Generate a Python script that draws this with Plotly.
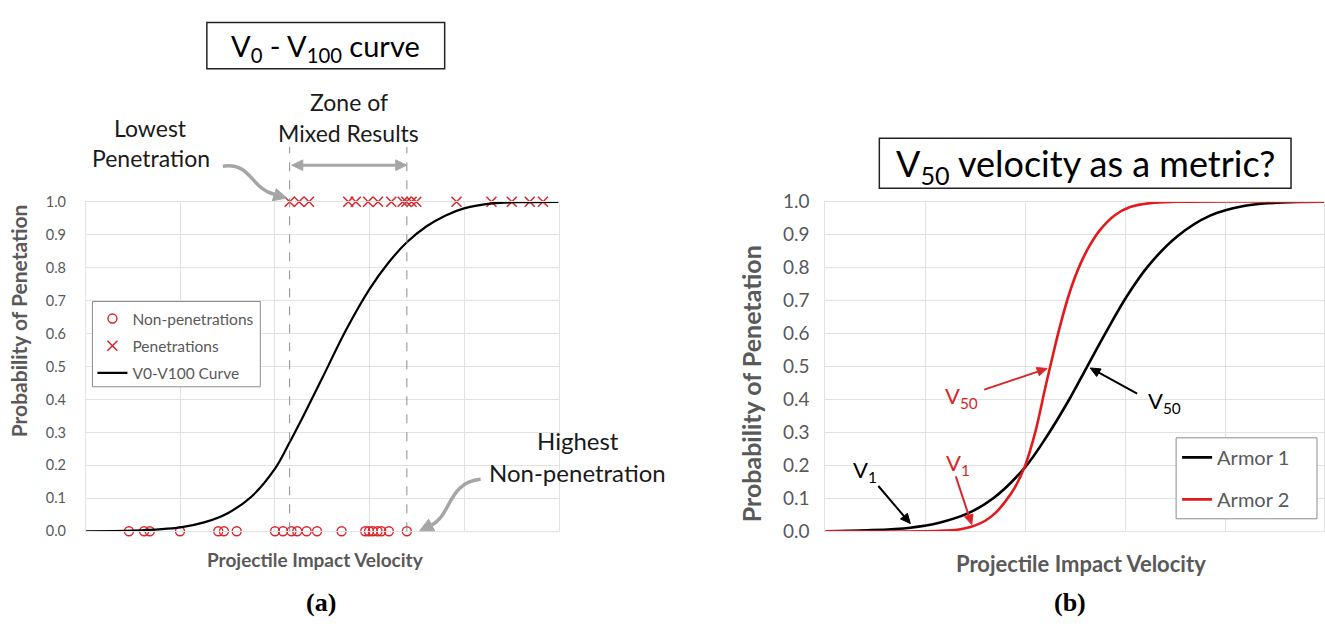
import math
import plotly.graph_objects as go

# ---------------- data ----------------
# (a) V0-V100 curve: arbitrary velocity units 0..10
nonpen_x = [0.91, 1.23, 1.35, 1.99, 2.80, 2.92, 3.19, 4.00, 4.17, 4.35, 4.47, 4.67, 4.89,
            5.41, 5.91, 5.99, 6.07, 6.17, 6.25, 6.41, 6.79]
pen_x = [4.31, 4.51, 4.72, 5.55, 5.71, 5.97, 6.18, 6.46, 6.70, 6.78, 6.89, 6.99,
         7.84, 8.58, 9.01, 9.39, 9.67]
curve_x = [0.0, 1.0, 2.0, 2.5, 3.0, 3.5, 4.0, 4.31, 4.6, 5.0, 5.5, 6.0, 6.4, 6.79,
           7.2, 7.6, 8.0, 8.6, 9.3, 10.0]
curve_p = [0.0, 0.002, 0.012, 0.027, 0.055, 0.105, 0.19, 0.27, 0.35, 0.465, 0.61, 0.735,
           0.815, 0.877, 0.925, 0.958, 0.98, 0.995, 0.999, 1.0]

# (b) two armors: arbitrary velocity units 0..5
armor1_x = [0.0, 0.42, 0.85, 1.14, 1.43, 1.68, 2.0, 2.22, 2.44, 2.62, 2.80, 3.02, 3.23,
            3.52, 3.85, 4.2, 4.57, 4.99]
armor1_p = [0.0, 0.003, 0.011, 0.026, 0.055, 0.1, 0.195, 0.29, 0.4, 0.5, 0.6, 0.715,
            0.805, 0.895, 0.958, 0.988, 0.998, 1.0]
armor2_x = [0.0, 1.0, 1.2, 1.3, 1.4, 1.5, 1.6, 1.7, 1.8, 1.9, 2.0, 2.1, 2.2, 2.25, 2.35,
            2.45, 2.55, 2.65, 2.75, 2.9, 3.05, 3.25, 3.5, 4.99]
armor2_p = [0.0, 0.0, 0.002, 0.004, 0.009, 0.018, 0.032, 0.055, 0.09, 0.135, 0.2, 0.3,
            0.435, 0.5, 0.625, 0.73, 0.81, 0.87, 0.915, 0.96, 0.984, 0.996, 1.0, 1.0]

y_ticks = [0.0, 0.1, 0.2, 0.3, 0.4, 0.5, 0.6, 0.7, 0.8, 0.9, 1.0]
y_ticklabels = ["0.0", "0.1", "0.2", "0.3", "0.4", "0.5", "0.6", "0.7", "0.8", "0.9", "1.0"]

# ---------------- style ----------------
W, H = 1325, 629
FONT = "Lato"
GRAY_TXT = "#595959"
GRID = "#e2e2e2"
RED = "#d9262c"
RED_LINE = "#e3191c"
ARROW_GRAY = "#a6a6a6"


def PX(x):
    return x / W


def PY(y):
    return 1 - y / H


def path(cmds):
    out = []
    for c in cmds:
        if isinstance(c, str):
            out.append(c)
        else:
            out.append(f"{PX(c[0]):.5f},{PY(c[1]):.5f}")
    return " ".join(out)


def head(tip, frm, length=10, half=4.5):
    dx, dy = tip[0] - frm[0], tip[1] - frm[1]
    n = math.hypot(dx, dy)
    dx, dy = dx / n, dy / n
    bx, by = tip[0] - length * dx, tip[1] - length * dy
    px_, py_ = -dy, dx
    p1 = (bx + half * px_, by + half * py_)
    p2 = (bx - half * px_, by - half * py_)
    return (bx, by), path(["M", tip, "L", p1, "L", p2, "Z"])


def arrow_shapes(tip, tail, color, width=2.0, length=10, half=4.5, both=False):
    out = []
    base, tri = head(tip, tail, length, half)
    start = tail
    if both:
        base2, tri2 = head(tail, tip, length, half)
        start = base2
        out.append(dict(type="path", xref="paper", yref="paper", path=tri2,
                        line=dict(color=color, width=1), fillcolor=color))
    out.append(dict(type="line", xref="paper", yref="paper", x0=PX(start[0]),
                    y0=PY(start[1]), x1=PX(base[0]), y1=PY(base[1]),
                    line=dict(color=color, width=width)))
    out.append(dict(type="path", xref="paper", yref="paper", path=tri,
                    line=dict(color=color, width=1), fillcolor=color))
    return out


fig = go.Figure()

# (a) traces
fig.add_trace(go.Scatter(
    x=nonpen_x, y=[0.0] * len(nonpen_x), mode="markers", name="Non-penetrations",
    marker=dict(symbol="circle-open", size=9, color=RED, line=dict(width=1.4, color=RED)),
    xaxis="x", yaxis="y", cliponaxis=False, legend="legend", legendgroup="a1"))
fig.add_trace(go.Scatter(
    x=pen_x, y=[1.0] * len(pen_x), mode="markers", name="Penetrations",
    marker=dict(symbol="x-thin-open", size=10, color=RED, line=dict(width=1.5, color=RED)),
    xaxis="x", yaxis="y", cliponaxis=False, legend="legend", legendgroup="a2"))
fig.add_trace(go.Scatter(
    x=curve_x, y=curve_p, mode="lines", name="V0-V100 Curve",
    line=dict(color="black", width=2.2, shape="spline", smoothing=1.0),
    xaxis="x", yaxis="y", legend="legend", legendgroup="a3"))

# (b) traces
fig.add_trace(go.Scatter(
    x=armor1_x, y=armor1_p, mode="lines", name="Armor 1",
    line=dict(color="black", width=2.6, shape="spline", smoothing=1.0),
    xaxis="x2", yaxis="y2", legend="legend2", legendgroup="b1"))
fig.add_trace(go.Scatter(
    x=armor2_x, y=armor2_p, mode="lines", name="Armor 2",
    line=dict(color=RED_LINE, width=2.6, shape="spline", smoothing=1.0),
    xaxis="x2", yaxis="y2", legend="legend2", legendgroup="b2"))

ydom = [PY(539), PY(197)]
common_x = dict(showticklabels=False, showgrid=True, gridcolor=GRID, gridwidth=1,
                zeroline=False, showline=True, linecolor=GRID, mirror=True, ticks="")
common_y = dict(domain=ydom, range=[0, 1], tickvals=y_ticks, ticktext=y_ticklabels,
                showgrid=True, gridcolor=GRID, zeroline=False, showline=True,
                linecolor=GRID, mirror=True, ticks="")

fig.update_layout(
    width=W, height=H, margin=dict(l=0, r=0, t=0, b=0),
    paper_bgcolor="white", plot_bgcolor="white",
    font=dict(family=FONT, color=GRAY_TXT),
    xaxis=dict(domain=[PX(86), PX(559)], range=[0, 10], dtick=2, tick0=0, **common_x),
    yaxis=dict(anchor="x", tickfont=dict(size=14.5, color=GRAY_TXT), ticklabelstandoff=16,
               **common_y),
    xaxis2=dict(domain=[PX(826), 1.0], range=[0, 4.99], dtick=1, tick0=0, anchor="y2",
                **common_x),
    yaxis2=dict(anchor="x2", tickfont=dict(size=19, color=GRAY_TXT), ticklabelstandoff=11,
                **common_y),
    legend=dict(x=PX(92.5), y=PY(301), xanchor="left", yanchor="top",
                borderwidth=0, bgcolor="rgba(0,0,0,0)",
                font=dict(family=FONT, size=15.5, color=GRAY_TXT),
                traceorder="grouped", tracegroupgap=4, itemwidth=30),
    legend2=dict(x=PX(1178), y=PY(442), xanchor="left", yanchor="top",
                 borderwidth=0, bgcolor="rgba(0,0,0,0)",
                 font=dict(family=FONT, size=20, color=GRAY_TXT),
                 traceorder="grouped", tracegroupgap=13, itemwidth=30),
    showlegend=True,
)

shapes = []
# dashed zone lines at lowest penetration and highest non-penetration
for xv in (min(pen_x), max(nonpen_x)):
    shapes.append(dict(type="line", xref="x", yref="paper", x0=xv, x1=xv,
                       y0=PY(539), y1=PY(140),
                       line=dict(color="#8c8c8c", width=1, dash="dash")))
# legend boxes
shapes.append(dict(type="rect", xref="paper", yref="paper", x0=PX(92.5), x1=PX(260.5),
                   y0=PY(389), y1=PY(300.5), line=dict(color="#8c8c8c", width=1),
                   fillcolor="white", layer="above"))
shapes.append(dict(type="rect", xref="paper", yref="paper", x0=PX(1177), x1=PX(1318),
                   y0=PY(526), y1=PY(442), line=dict(color="#8c8c8c", width=1),
                   fillcolor="white", layer="above"))
# title boxes
shapes.append(dict(type="rect", xref="paper", yref="paper", x0=PX(207), x1=PX(445),
                   y0=PY(59), y1=PY(11), line=dict(color="#222222", width=1.5)))
shapes.append(dict(type="rect", xref="paper", yref="paper", x0=PX(880), x1=PX(1292),
                   y0=PY(183), y1=PY(131), line=dict(color="#222222", width=1.5)))
# curved gray arrows
shapes.append(dict(type="path", xref="paper", yref="paper",
                   path=path(["M", (223, 160), "C", (252, 156), (250, 183), (275, 189.5)]),
                   line=dict(color=ARROW_GRAY, width=3.5)))
shapes.append(dict(type="path", xref="paper", yref="paper",
                   path=path(["M", (287, 193), "L", (272.5, 196), "L", (276.5, 183.5), "Z"]),
                   line=dict(color=ARROW_GRAY, width=1), fillcolor=ARROW_GRAY))
shapes.append(dict(type="path", xref="paper", yref="paper",
                   path=path(["M", (481, 485), "C", (448, 488), (452, 522), (432, 532.5)]),
                   line=dict(color=ARROW_GRAY, width=3.5)))
shapes.append(dict(type="path", xref="paper", yref="paper",
                   path=path(["M", (420, 538.5), "L", (435, 538.5), "L", (429, 526.5), "Z"]),
                   line=dict(color=ARROW_GRAY, width=1), fillcolor=ARROW_GRAY))
# zone double arrow
shapes += arrow_shapes((407, 159), (292, 159), ARROW_GRAY, width=3, length=11, half=5.5,
                       both=True)
# V50 / V1 arrows
shapes += arrow_shapes((1048, 370), (985, 392), RED)
shapes += arrow_shapes((1091, 369.5), (1138, 396), "black")
shapes += arrow_shapes((911, 531), (879, 492), "black")
shapes += arrow_shapes((972.5, 532), (956.5, 482), RED)
fig.update_layout(shapes=shapes)

ann = []


def txt(x, y, text, size, color="black", bold=False, family=FONT, angle=0):
    ann.append(dict(xref="paper", yref="paper", x=PX(x), y=PY(y), text=text,
                    showarrow=False, xanchor="center", yanchor="middle", textangle=angle,
                    font=dict(family=family, size=size, color=color,
                              weight="bold" if bold else "normal")))


# titles
txt(326, 37, "V<sub>0</sub> - V<sub>100</sub> curve", 29, "black")
txt(1086, 159, "V<sub>50</sub> velocity as a metric?", 36, "black")

# (a) annotations
txt(151, 120, "Lowest", 23, "#1a1a1a")
txt(151, 152, "Penetration", 23, "#1a1a1a")
txt(349, 93, "Zone of", 23, "#1a1a1a")
txt(349, 126, "Mixed Results", 23, "#1a1a1a")
txt(578, 445, "Highest", 24, "#1a1a1a")
txt(578, 478, "Non-penetration", 24, "#1a1a1a")

# axis titles
txt(18, 320, "Probability of Penetation", 21, GRAY_TXT, bold=True, angle=-90)
txt(316, 568, "Projectile Impact Velocity", 19, GRAY_TXT, bold=True)
txt(751, 386, "Probability of Penetation", 25, GRAY_TXT, bold=True, angle=-90)
txt(1082, 572, "Projectile Impact Velocity", 22, GRAY_TXT, bold=True)

# (b) annotations
txt(962, 400, "V<sub>50</sub>", 22, RED)
txt(1165, 405, "V<sub>50</sub>", 22, "black")
txt(866, 476, "V<sub>1</sub>", 22, "black")
txt(959, 469, "V<sub>1</sub>", 22, RED)

# panel labels
txt(321, 613, "(a)", 26, "black", bold=True, family="Liberation Serif")
txt(1071, 613, "(b)", 26, "black", bold=True, family="Liberation Serif")

fig.update_layout(annotations=ann)
fig.write_html("out.html", config={"displayModeBar": False},
               post_script="document.body.style.margin='0';document.body.style.overflow='hidden';")
